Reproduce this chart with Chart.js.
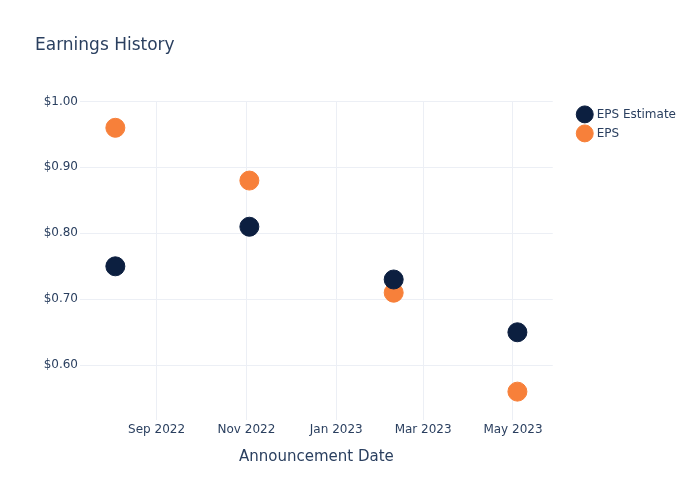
<!DOCTYPE html>
<html>
<head>
<meta charset="utf-8">
<script src="https://cdn.jsdelivr.net/npm/chart.js@4.4.0/dist/chart.umd.min.js"></script>
<style>
  html, body { margin: 0; padding: 0; background: #fff; }
  #wrap { width: 700px; height: 500px; }
</style>
</head>
<body>
<div id="wrap"><canvas id="myChart"></canvas></div>
<script>
// announcement dates (yyyy-mm-dd)
var datas = ['2022-08-04', '2022-11-03', '2023-02-09', '2023-05-04'];
var epsEstimate = [0.75, 0.81, 0.73, 0.65];
var epsReal = [0.96, 0.88, 0.71, 0.56];
// month ticks on x axis
var tickDatas = ['2022-09-01', '2022-11-01', '2023-01-01', '2023-03-01', '2023-05-01'];
var yTicks = [0.60, 0.70, 0.80, 0.90, 1.00];
var xMin = '2022-07-11', xMax = '2023-05-28';

var meses = ['Jan', 'Feb', 'Mar', 'Apr', 'May', 'Jun', 'Jul', 'Aug', 'Sep', 'Oct', 'Nov', 'Dec'];

function toMs(s) {
    var p = s.split('-');
    return Date.UTC(+p[0], +p[1] - 1, +p[2]);
}

function montaPontos(valores) {
    return datas.map(function(d, i) {
        return { x: toMs(d), y: valores[i] };
    });
}

var corTexto = '#2a3f5f';
var corGrade = '#eceff5';
var recuoLegenda = 19; // gap between plot and legend

// pushes the legend a bit away from the plot area
var afastaLegenda = {
    id: 'afastaLegenda',
    beforeInit: function(chart) {
        var leg = chart.legend;
        var fitOrig = leg.fit;
        leg.fit = function() {
            fitOrig.call(this);
            this.width += recuoLegenda;
        };
    },
    afterLayout: function(chart) {
        chart.legend.left += recuoLegenda;
    }
};

var ctx = document.getElementById('myChart').getContext('2d');
var chart = new Chart(ctx, {
    type: 'scatter',
    data: {
        datasets: [{
            label: 'EPS Estimate',
            data: montaPontos(epsEstimate),
            backgroundColor: '#0c1f40',
            borderColor: '#0c1f40',
            pointRadius: 9.5,
            pointHoverRadius: 9.5
        }, {
            label: 'EPS',
            data: montaPontos(epsReal),
            backgroundColor: '#f7803a',
            borderColor: '#f7803a',
            pointRadius: 9.5,
            pointHoverRadius: 9.5
        }]
    },
    plugins: [afastaLegenda],
    options: {
        responsive: true,
        maintainAspectRatio: false,
        animation: false,
        layout: { padding: { left: 35, right: 14, top: 35, bottom: 0 } },
        plugins: {
            title: {
                display: true,
                text: 'Earnings History',
                align: 'start',
                color: corTexto,
                font: { family: 'DejaVu Sans', size: 17, weight: 'normal' },
                padding: { top: 0, bottom: 46 }
            },
            legend: {
                position: 'right',
                align: 'start',
                fullSize: false,
                labels: {
                    usePointStyle: true,
                    pointStyle: 'circle',
                    color: corTexto,
                    font: { family: 'DejaVu Sans', size: 12 },
                    padding: 7
                }
            },
            tooltip: { enabled: false }
        },
        scales: {
            x: {
                type: 'linear',
                min: toMs(xMin),
                max: toMs(xMax),
                afterBuildTicks: function(scale) {
                    scale.ticks = tickDatas.map(function(d) { return { value: toMs(d) }; });
                },
                afterFit: function(scale) { scale.height = 80; },
                ticks: {
                    color: corTexto,
                    font: { family: 'DejaVu Sans', size: 12 },
                    padding: 3,
                    maxRotation: 0,
                    callback: function(v) {
                        var d = new Date(v);
                        return meses[d.getUTCMonth()] + ' ' + d.getUTCFullYear();
                    }
                },
                grid: { color: corGrade, drawTicks: false },
                border: { display: false },
                title: {
                    display: true,
                    text: 'Announcement Date',
                    color: corTexto,
                    font: { family: 'DejaVu Sans', size: 15 },
                    padding: { top: 0, bottom: 34 }
                }
            },
            y: {
                min: 0.517,
                max: 1.0,
                afterBuildTicks: function(scale) {
                    scale.ticks = yTicks.map(function(v) { return { value: v }; });
                },
                afterFit: function(scale) { scale.width = 45; },
                ticks: {
                    color: corTexto,
                    font: { family: 'DejaVu Sans', size: 12 },
                    padding: 2,
                    callback: function(v) { return '$' + v.toFixed(2); }
                },
                grid: { color: corGrade, drawTicks: false },
                border: { display: false }
            }
        }
    }
});
</script>
</body>
</html>
